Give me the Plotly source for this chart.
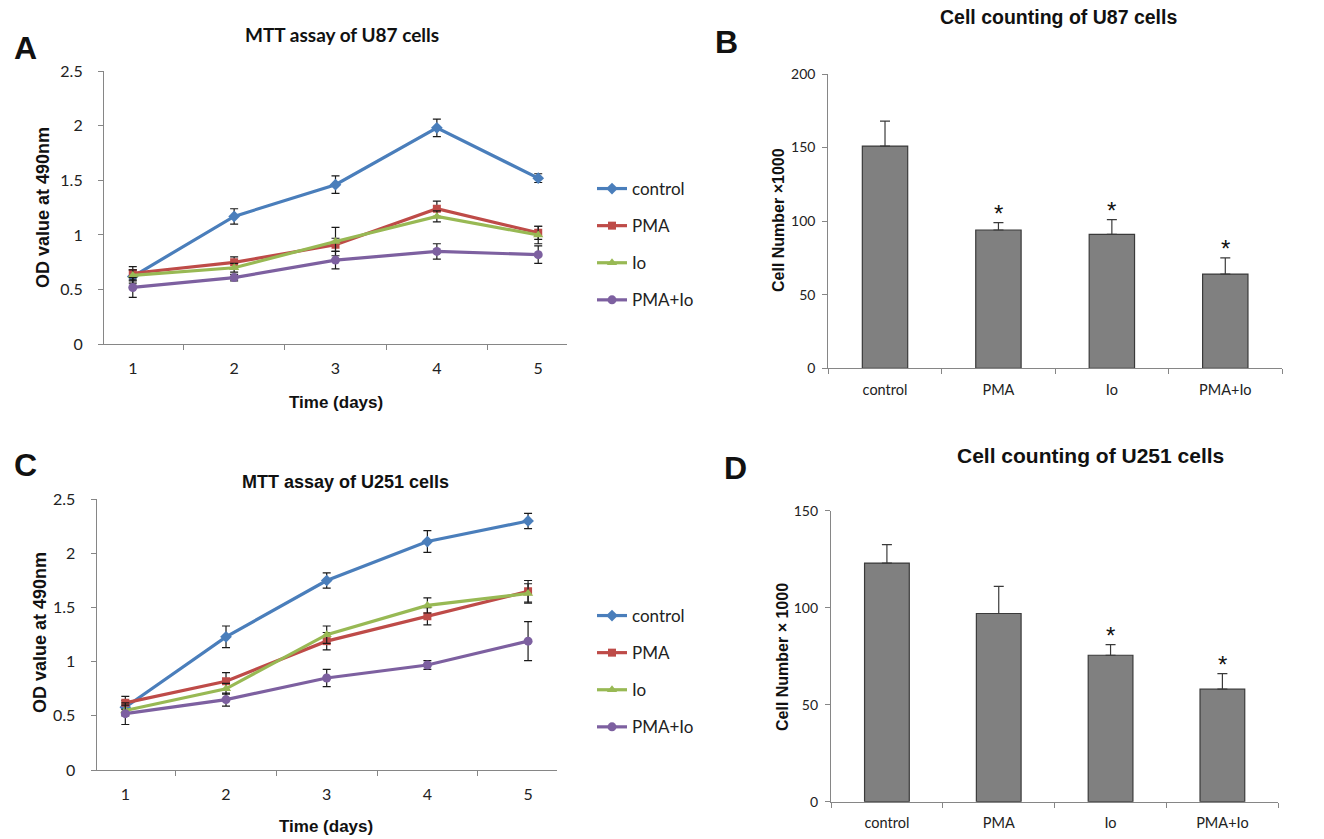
import plotly.graph_objects as go

# ---------------- data ----------------
days = ["1", "2", "3", "4", "5"]
series_names = ["control", "PMA", "Io", "PMA+Io"]
series_colors = ["#4A7EBB", "#BE4B48", "#98B954", "#7D60A0"]
series_symbols = ["diamond", "square", "triangle-up", "circle"]

# Panel A: MTT assay of U87 cells
u87_mtt = {
    "control": [0.62, 1.17, 1.46, 1.98, 1.52],
    "PMA":     [0.65, 0.75, 0.91, 1.24, 1.02],
    "Io":      [0.63, 0.70, 0.94, 1.17, 1.00],
    "PMA+Io":  [0.52, 0.61, 0.77, 0.85, 0.82],
}
u87_mtt_err = {
    "control": [0.06, 0.07, 0.08, 0.08, 0.04],
    "PMA":     [0.06, 0.05, 0.06, 0.07, 0.06],
    "Io":      [0.05, 0.04, 0.13, 0.05, 0.08],
    "PMA+Io":  [0.09, 0.03, 0.08, 0.07, 0.08],
}

# Panel C: MTT assay of U251 cells
u251_mtt = {
    "control": [0.58, 1.23, 1.75, 2.11, 2.30],
    "PMA":     [0.62, 0.82, 1.19, 1.42, 1.65],
    "Io":      [0.55, 0.75, 1.25, 1.52, 1.63],
    "PMA+Io":  [0.52, 0.65, 0.85, 0.97, 1.19],
}
u251_mtt_err = {
    "control": [0.06, 0.10, 0.07, 0.10, 0.07],
    "PMA":     [0.06, 0.08, 0.08, 0.08, 0.10],
    "Io":      [0.05, 0.05, 0.08, 0.07, 0.09],
    "PMA+Io":  [0.10, 0.06, 0.08, 0.04, 0.18],
}

groups = ["control", "PMA", "Io", "PMA+Io"]
# Panel B: cell counting U87
u87_count = [151, 94, 91, 64]
u87_count_err = [17, 5, 10, 11]
u87_sig = [False, True, True, True]
# Panel D: cell counting U251
u251_count = [123, 97, 75.5, 58]
u251_count_err = [9.5, 14, 5.5, 8]
u251_sig = [False, False, True, True]

# ---------------- figure ----------------
W, H = 1324, 839
def px_x(p):
    return p / W
def px_y(p):
    return 1 - p / H

AXC = "#868686"
TICKFONT = "Lato, 'Open Sans', sans-serif"
BOLD = "Liberation Sans, Arial, sans-serif"

fig = go.Figure()

def add_lines(data, err, xa, ya, legend, prefix):
    for name, col, sym in zip(series_names, series_colors, series_symbols):
        fig.add_trace(go.Scatter(
            x=days, y=data[name], name=name, mode="lines+markers",
            line=dict(color=col, width=3.2),
            marker=dict(symbol=sym, size=9 if sym != "square" else 8, color=col),
            error_y=dict(type="data", array=err[name], color="#1a1a1a", thickness=1.2, width=4),
            xaxis=xa, yaxis=ya, legend=legend, legendgroup=prefix + name,
        ))

def add_bars(vals, errs, sig, xa, ya):
    fig.add_trace(go.Bar(
        x=groups, y=vals, width=0.4, showlegend=False,
        marker=dict(color="#808080", line=dict(color="#3a3a3a", width=1.2)),
        error_y=dict(type="data", symmetric=False, array=errs, arrayminus=[0] * len(errs),
                     color="#3a3a3a", thickness=1.2, width=5),
        xaxis=xa, yaxis=ya,
    ))
    for g, v, e, s in zip(groups, vals, errs, sig):
        if s:
            fig.add_annotation(x=g, y=v + e, xref=xa, yref=ya, text="*", showarrow=False,
                               yanchor="bottom", yshift=-6,
                               font=dict(family=BOLD, size=24, color="#111"))

add_lines(u87_mtt, u87_mtt_err, "x", "y", "legend", "A")
add_bars(u87_count, u87_count_err, u87_sig, "x2", "y2")
add_lines(u251_mtt, u251_mtt_err, "x3", "y3", "legend2", "C")
add_bars(u251_count, u251_count_err, u251_sig, "x4", "y4")

def xcat(domain, size, anchor, standoff):
    return dict(domain=domain, type="category", tickson="boundaries", ticks="outside",
                ticklen=5, tickcolor=AXC, showline=True, linecolor=AXC, linewidth=1.2,
                showgrid=False, zeroline=False, anchor=anchor, automargin=False,
                ticklabelstandoff=standoff,
                tickfont=dict(family=TICKFONT, size=size, color="#222"), fixedrange=True)

def ylin(domain, rng, dtick, size, anchor, standoff):
    return dict(domain=domain, range=rng, dtick=dtick, ticks="outside", ticklen=5,
                tickcolor=AXC, showline=True, linecolor=AXC, linewidth=1.2,
                showgrid=False, zeroline=False, anchor=anchor, automargin=False,
                ticklabelstandoff=standoff,
                tickfont=dict(family=TICKFONT, size=size, color="#222"), fixedrange=True)

fig.update_layout(
    template="none",
    width=W, height=H, margin=dict(l=0, r=0, t=0, b=0, pad=0),
    paper_bgcolor="white", plot_bgcolor="white",
    xaxis=xcat([px_x(104), px_x(567)], 16, "y", 9),
    yaxis=ylin([px_y(344.3), px_y(71)], [0, 2.5], 0.5, 16, "x", 12),
    xaxis2=xcat([px_x(828.3), px_x(1282)], 14.5, "y2", 8),
    yaxis2=ylin([px_y(368.3), px_y(74)], [0, 200], 50, 14, "x2", 4),
    xaxis3=xcat([px_x(96.7), px_x(556.7)], 16, "y3", 10),
    yaxis3=ylin([px_y(770), px_y(499.3)], [0, 2.5], 0.5, 16, "x3", 12),
    xaxis4=xcat([px_x(831), px_x(1278.3)], 14.5, "y4", 8),
    yaxis4=ylin([px_y(801.7), px_y(510.7)], [0, 150], 50, 14, "x4", 4),
    legend=dict(x=px_x(592), y=px_y(171), xanchor="left", yanchor="top",
                font=dict(family=TICKFONT, size=17, color="#222"), tracegroupgap=12,
                bgcolor="rgba(0,0,0,0)", itemclick=False, itemdoubleclick=False),
    legend2=dict(x=px_x(592), y=px_y(598), xanchor="left", yanchor="top",
                 font=dict(family=TICKFONT, size=17, color="#222"), tracegroupgap=12,
                 bgcolor="rgba(0,0,0,0)", itemclick=False, itemdoubleclick=False),
    bargap=0.6,
)

def ann(text, x, y, size, family, angle=0, bold=True):
    fig.add_annotation(x=px_x(x), y=px_y(y), xref="paper", yref="paper",
                       text=f"<b>{text}</b>" if bold else text, showarrow=False,
                       textangle=angle, xanchor="center", yanchor="middle",
                       font=dict(family=family, size=size, color="#111"))

# titles
ann("MTT assay of U87 cells", 342, 35, 19, TICKFONT)
ann("Cell counting of U87 cells", 1058, 17, 19.5, BOLD)
ann("MTT assay of U251 cells", 345, 482, 18, BOLD)
ann("Cell counting of U251 cells", 1090, 455, 21, BOLD)
# panel letters
ann("A", 25, 48, 32, BOLD)
ann("B", 727, 42, 32, BOLD)
ann("C", 25, 465, 32, BOLD)
ann("D", 735, 468, 32, BOLD)
# axis titles
ann("OD value at 490nm", 43, 208, 18, BOLD, angle=-90)
ann("OD value at 490nm", 40, 633, 18, BOLD, angle=-90)
ann("Cell Number \u00d71000", 778, 220, 16, BOLD, angle=-90)
ann("Cell Number \u00d7 1000", 782, 657, 16, BOLD, angle=-90)
ann("Time (days)", 336, 402, 17, BOLD)
ann("Time (days)", 326, 826, 17, BOLD)

fig.write_html("out.html", config={"displayModeBar": False},
               post_script="document.body.style.margin='0';")
